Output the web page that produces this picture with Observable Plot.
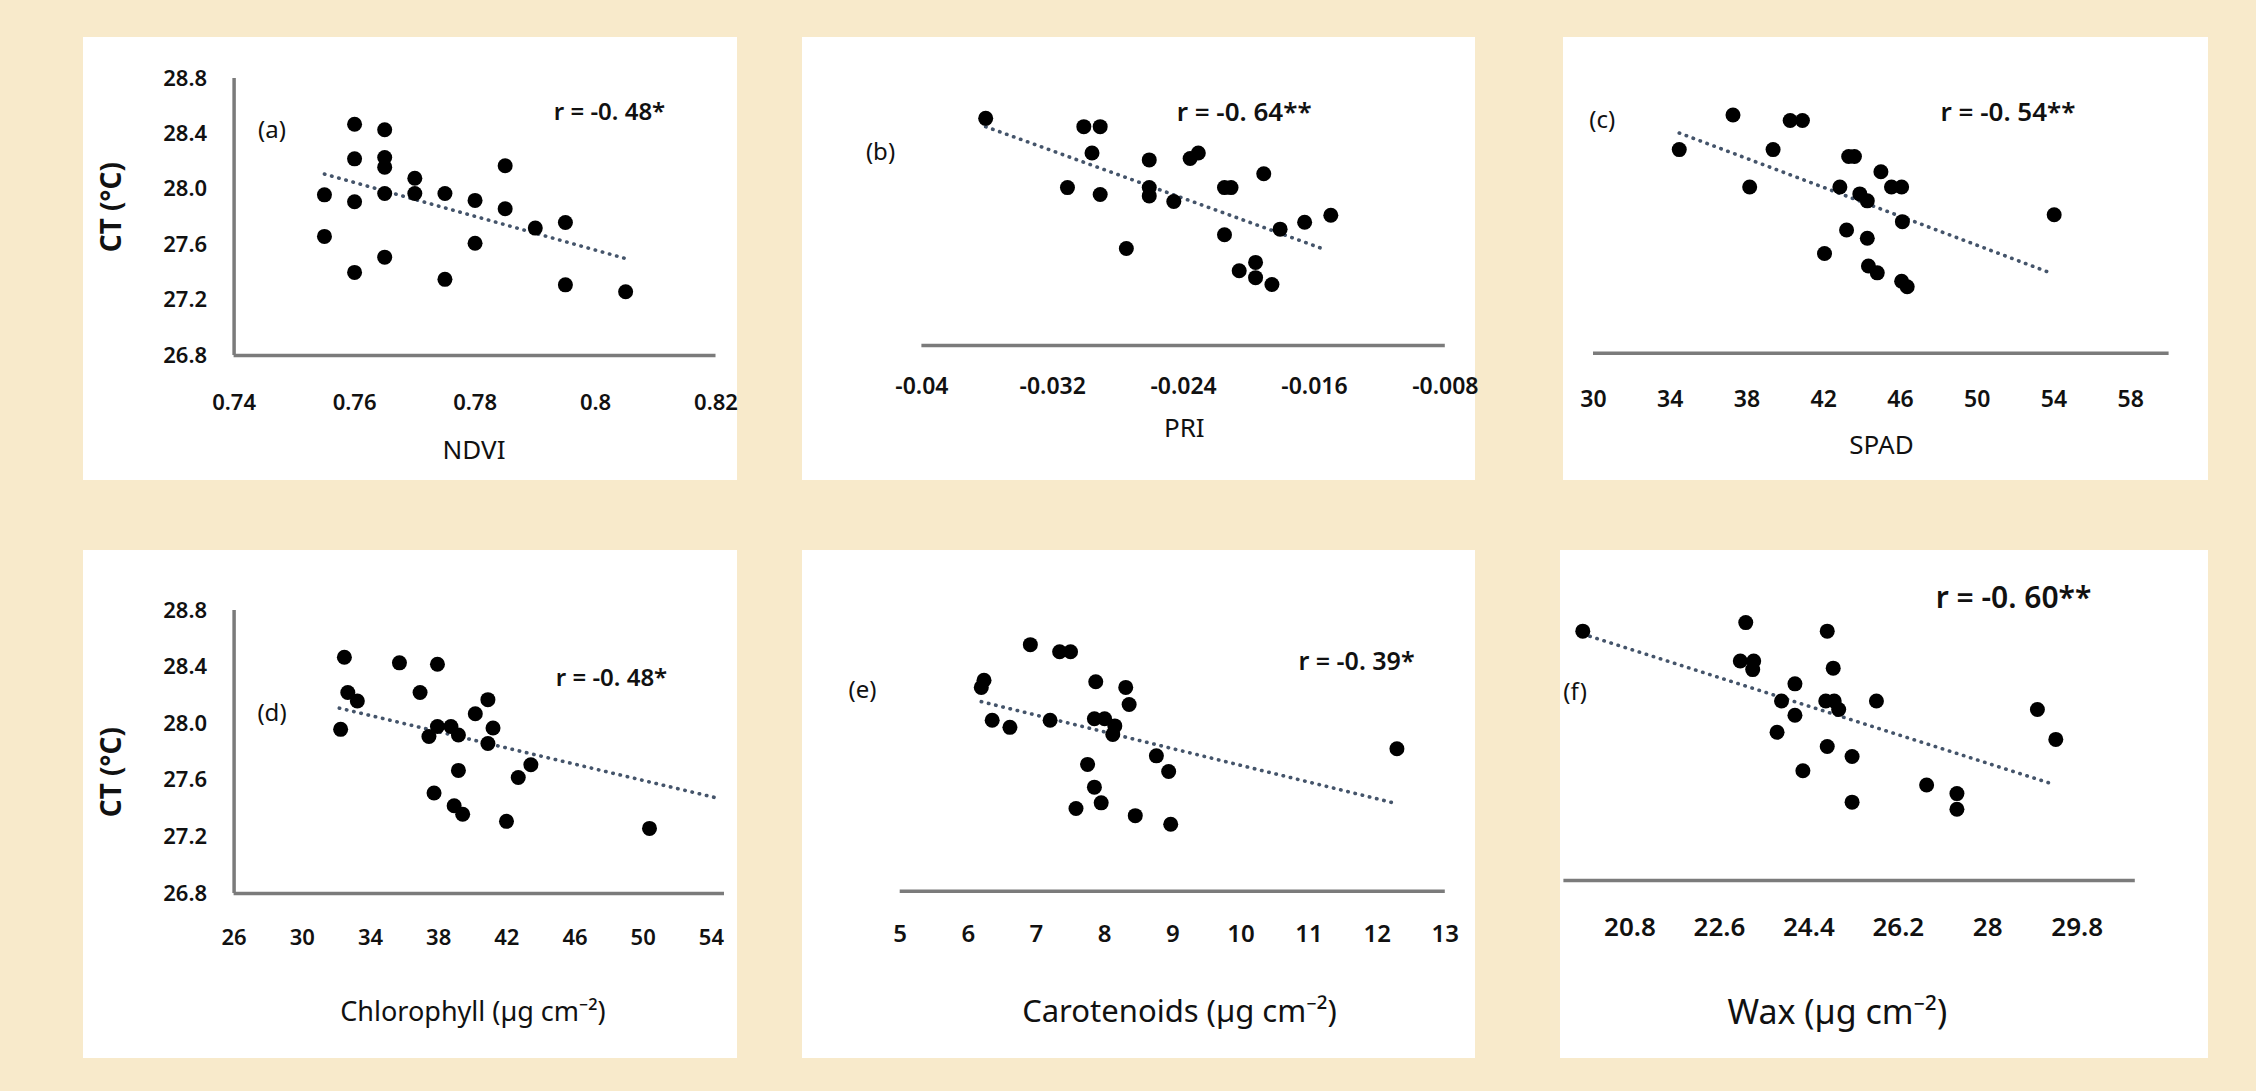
<!DOCTYPE html>
<html><head><meta charset="utf-8">
<script src="https://cdn.jsdelivr.net/npm/d3@7"></script>
<script src="https://cdn.jsdelivr.net/npm/@observablehq/plot@0.6"></script>
<style>
html,body{margin:0;padding:0;}
body{width:2256px;height:1091px;background:#f8eacb;position:relative;overflow:hidden;font-family:"Noto Sans",sans-serif;}
.panel{position:absolute;background:#fff;}
.panel svg{display:block;overflow:visible;}
</style></head><body>
<div id="pa" class="panel"></div><div id="pb" class="panel"></div><div id="pc" class="panel"></div>
<div id="pd" class="panel"></div><div id="pe" class="panel"></div><div id="pf" class="panel"></div>
<script>
// ---- data ----
const ctLabel = "CT (°C)";
const ctTicks = [26.8, 27.2, 27.6, 28.0, 28.4, 28.8];

const ndviTicks = [0.74, 0.76, 0.78, 0.8, 0.82];
const ndvi   = [0.755,0.755,0.760,0.760,0.760,0.760,0.765,0.765,0.765,0.765,0.765,0.770,0.770,0.775,0.775,0.780,0.780,0.785,0.785,0.790,0.795,0.795,0.805];
const ctNdvi = [27.96,27.66,28.47,28.22,27.91,27.40,28.43,28.23,28.16,27.97,27.51,28.08,27.97,27.97,27.35,27.92,27.61,28.17,27.86,27.72,27.76,27.31,27.26];
const trendNdviX = [0.755, 0.805], trendNdviY = [28.11, 27.50];

const priTicks = [-0.04, -0.032, -0.024, -0.016, -0.008];
const pri   = [-0.0361,-0.0301,-0.0291,-0.0296,-0.0311,-0.0291,-0.0275,-0.0261,-0.0261,-0.0261,-0.0246,-0.0236,-0.0231,-0.0215,-0.0211,-0.0215,-0.0191,-0.0181,-0.0166,-0.0150,-0.0206,-0.0196,-0.0196,-0.0186];
const ctPri = [28.44,28.38,28.38,28.19,27.94,27.89,27.50,28.14,27.94,27.88,27.84,28.15,28.19,27.94,27.94,27.60,28.04,27.64,27.69,27.74,27.34,27.40,27.29,27.24];
const trendPriX = [-0.0361, -0.0153], trendPriY = [28.38, 27.49];

const spadTicks = [30, 34, 38, 42, 46, 50, 54, 58];
const spad   = [34.47,37.27,38.14,39.36,40.25,40.89,42.04,42.84,43.19,43.30,43.60,43.88,44.27,44.27,44.33,44.79,44.98,45.53,46.06,46.10,46.06,46.35,54.01];
const ctSpad = [28.27,28.52,28.00,28.27,28.48,28.48,27.52,28.00,27.69,28.22,28.22,27.95,27.90,27.63,27.43,27.38,28.11,28.00,28.00,27.75,27.32,27.28,27.80];
const trendSpadX = [34.47, 53.62], trendSpadY = [28.39, 27.39];

const chlTicks = [26, 30, 34, 38, 42, 46, 50, 54];
const chl   = [32.25,32.47,32.67,33.23,35.70,36.91,37.93,37.43,37.93,37.73,38.72,39.16,39.16,38.91,39.41,40.15,40.89,41.19,40.89,42.67,43.41,41.98,50.37];
const ctChl = [27.96,28.47,28.22,28.16,28.43,28.22,28.42,27.91,27.98,27.51,27.98,27.92,27.67,27.42,27.36,28.07,28.17,27.97,27.86,27.62,27.71,27.31,27.26];
const trendChlX = [32.17, 54.5], trendChlY = [28.11, 27.47];

const carTicks = [5, 6, 7, 8, 9, 10, 11, 12, 13];
const car   = [6.91,7.34,7.50,6.23,6.19,6.35,6.61,7.20,7.87,8.31,8.36,7.85,8.00,8.15,8.12,7.75,8.76,8.94,7.85,7.95,7.58,8.45,8.97,12.29];
const ctCar = [28.53,28.48,28.48,28.28,28.23,28.00,27.95,28.00,28.27,28.23,28.11,28.01,28.01,27.96,27.90,27.69,27.75,27.64,27.53,27.42,27.38,27.33,27.27,27.80];
const trendCarX = [6.19, 12.24], trendCarY = [28.13, 27.42];

const waxTicks = [20.8, 22.6, 24.4, 26.2, 28, 29.8];
const wax   = [19.85,23.13,23.02,23.29,23.27,24.77,24.89,24.12,23.85,24.12,23.76,24.74,24.91,25.00,25.76,24.77,25.27,24.28,25.27,26.77,27.38,27.38,29.00,29.37];
const ctWax = [28.55,28.61,28.34,28.34,28.28,28.55,28.29,28.18,28.06,27.96,27.84,28.06,28.06,28.00,28.06,27.74,27.67,27.57,27.35,27.47,27.41,27.30,28.00,27.79];
const trendWaxX = [19.85, 29.28], trendWaxY = [28.53, 27.48];

const rTexts = ["r = -0. 48*", "r = -0. 64**", "r = -0. 54**", "r = -0. 48*", "r = -0. 39*", "r = -0. 60**"];
const tags = ["(a)", "(b)", "(c)", "(d)", "(e)", "(f)"];
const xTitles = ["NDVI", "PRI", "SPAD", "Chlorophyll (µg cm⁻²)", "Carotenoids (µg cm⁻²)", "Wax (µg cm⁻²)"];

// ---- drawing ----
const AXIS = "#7b7b7b", TREND = "#44546a", INK = "#111";
function makePanel(id, o) {
  const el = document.getElementById(id);
  Object.assign(el.style, {left: o.box[0] + "px", top: o.box[1] + "px", width: o.box[2] + "px", height: o.box[3] + "px"});
  const pts = o.xs.map((x, i) => ({x, y: o.ys[i]}));
  const tr = o.tx.map((x, i) => ({x, y: o.ty[i]}));
  const marks = [Plot.ruleY([o.yDomain[0]], {stroke: AXIS, strokeWidth: 3.5})];
  if (o.yTicks) {
    marks.push(Plot.ruleX([o.xDomain[0]], {stroke: AXIS, strokeWidth: 3.5}));
    marks.push(Plot.axisY({ticks: o.yTicks, tickSize: 0, tickPadding: o.padY, tickFormat: d => d.toFixed(1), fontSize: o.tickFont, fontWeight: 600, label: null}));
    marks.push(Plot.text([ctLabel], {text: d => d, frameAnchor: "left", dx: o.ct[0], dy: o.ct[1], rotate: -90, fontSize: 28, fontWeight: "bold", fill: INK, textAnchor: "middle", lineAnchor: "middle"}));
  }
  marks.push(Plot.axisX({ticks: o.xTicks, tickSize: 0, tickPadding: o.padX, tickFormat: d => String(d), fontSize: o.tickFont, fontWeight: 600, label: null}));
  marks.push(Plot.line(tr, {x: "x", y: "y", stroke: TREND, strokeWidth: 3.6, strokeDasharray: "0.4,7", strokeLinecap: "round"}));
  marks.push(Plot.dot(pts, {x: "x", y: "y", r: 7.5, fill: "#000"}));
  marks.push(Plot.text([o.tag], {text: d => d, frameAnchor: "top-left", dx: o.tagPos[0], dy: o.tagPos[1], fontSize: 24, fill: INK, textAnchor: "middle", lineAnchor: "middle"}));
  marks.push(Plot.text([o.r], {text: d => d, frameAnchor: "top-left", dx: o.rPos[0], dy: o.rPos[1], fontSize: o.rFont, fontWeight: 600, fill: INK, textAnchor: "middle", lineAnchor: "middle"}));
  marks.push(Plot.text([o.title], {text: d => d, frameAnchor: "bottom", dx: o.titlePos[0], dy: o.titlePos[1], fontSize: o.titleFont, fill: INK, textAnchor: "middle", lineAnchor: "middle"}));
  const svg = Plot.plot({
    width: o.box[2], height: o.box[3],
    marginTop: o.m[0], marginRight: o.m[1], marginBottom: o.m[2], marginLeft: o.m[3],
    x: {domain: o.xDomain},
    y: {domain: o.yDomain, axis: o.yTicks ? undefined : null},
    style: {background: "transparent", fontFamily: "'Noto Sans', sans-serif", color: INK, overflow: "visible"},
    marks
  });
  el.appendChild(svg);
}

makePanel("pa", {box: [83, 37, 654, 443], m: [41, 21.5, 125, 150.6], xDomain: [0.74, 0.82], yDomain: [26.8, 28.8],
  xTicks: ndviTicks, yTicks: ctTicks, xs: ndvi, ys: ctNdvi, tx: trendNdviX, ty: trendNdviY, tickFont: 22, padX: 39, padY: 27,
  ct: [-122, -9.8], tag: tags[0], tagPos: [37.9, 52], r: rTexts[0], rPos: [375.4, 33.7], rFont: 24, title: xTitles[0], titleFont: 26, titlePos: [-1, 95]});
makePanel("pb", {box: [802, 37, 673, 443], m: [31, 30.2, 135, 119.4], xDomain: [-0.04, -0.008], yDomain: [26.8, 28.8],
  xTicks: priTicks, xs: pri, ys: ctPri, tx: trendPriX, ty: trendPriY, tickFont: 23, padX: 32,
  tag: tags[1], tagPos: [-41.4, 83.7], r: rTexts[1], rPos: [322.2, 43.7], rFont: 26, title: xTitles[1], titleFont: 26, titlePos: [0.7, 83.3]});
makePanel("pc", {box: [1563, 37, 645, 443], m: [38.7, 39.4, 127.3, 30], xDomain: [30, 60], yDomain: [26.8, 28.8],
  xTicks: spadTicks, xs: spad, ys: ctSpad, tx: trendSpadX, ty: trendSpadY, tickFont: 23, padX: 37,
  tag: tags[2], tagPos: [8.8, 44.3], r: rTexts[2], rPos: [414.5, 36], rFont: 26, title: xTitles[2], titleFont: 26, titlePos: [0.2, 92.3]});
makePanel("pd", {box: [83, 550, 654, 508], m: [60, 13, 165, 150.6], xDomain: [26, 54.77], yDomain: [26.8, 28.8],
  xTicks: chlTicks, yTicks: ctTicks, xs: chl, ys: ctChl, tx: trendChlX, ty: trendChlY, tickFont: 22, padX: 36, padY: 27,
  ct: [-122, 20.2], tag: tags[3], tagPos: [37.9, 103.3], r: rTexts[3], rPos: [377.4, 68], rFont: 24, title: xTitles[3], titleFont: 27, titlePos: [-6.3, 118.7]});
makePanel("pe", {box: [802, 550, 673, 508], m: [55.7, 30.2, 167.3, 97.7], xDomain: [5, 13], yDomain: [26.8, 28.8],
  xTicks: carTicks, xs: car, ys: ctCar, tx: trendCarX, ty: trendCarY, tickFont: 24, padX: 34,
  tag: tags[4], tagPos: [-37.7, 84.3], r: rTexts[4], rPos: [456.3, 56], rFont: 25, title: xTitles[4], titleFont: 31, titlePos: [6.75, 121]});
makePanel("pf", {box: [1560, 550, 648, 508], m: [45, 73.2, 178, 3.4], xDomain: [19.47, 30.97], yDomain: [26.8, 28.8],
  xTicks: waxTicks, xs: wax, ys: ctWax, tx: trendWaxX, ty: trendWaxY, tickFont: 26, padX: 37,
  tag: tags[5], tagPos: [11.2, 96.7], r: rTexts[5], rPos: [449.6, 3.3], rFont: 30, title: xTitles[5], titleFont: 34, titlePos: [-12.3, 133]});
</script>
</body></html>
